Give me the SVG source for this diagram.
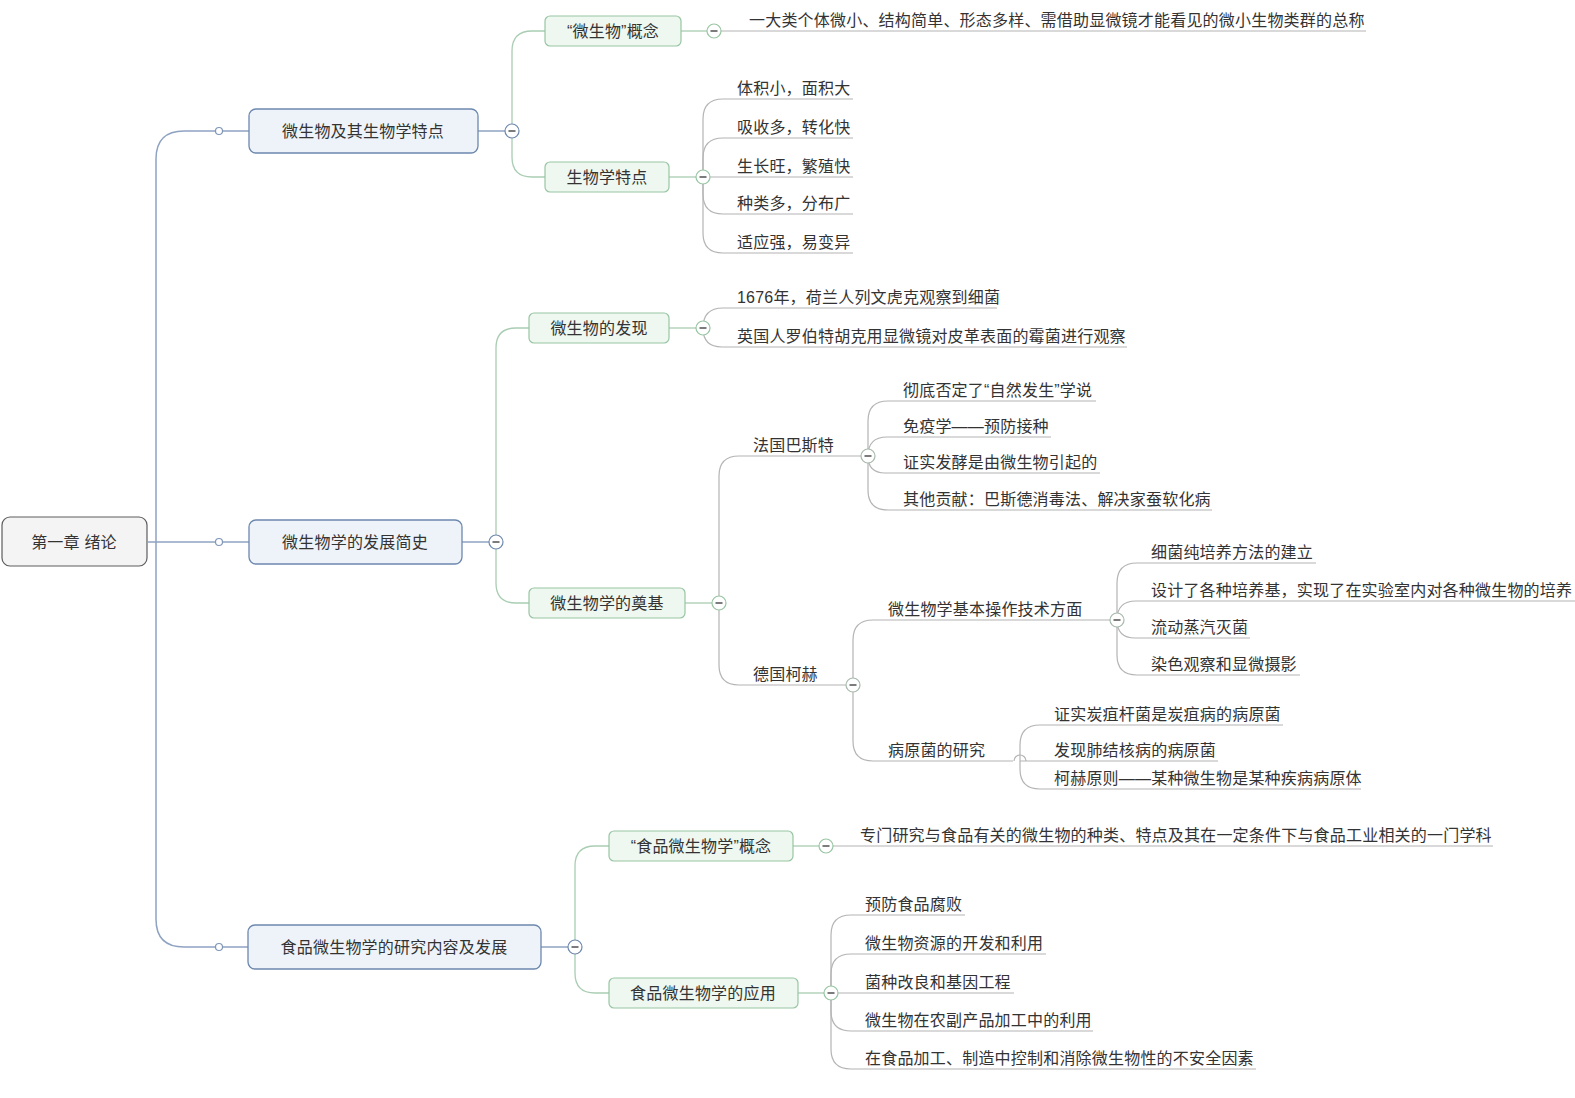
<svg xmlns="http://www.w3.org/2000/svg" xmlns:xlink="http://www.w3.org/1999/xlink" width="1575" height="1098" viewBox="0 0 1575 1098">
<style>
text{font-family:"Liberation Sans","Noto Sans CJK SC",sans-serif;font-size:16px;fill:#333;letter-spacing:0.2px}
.c{text-anchor:middle;dominant-baseline:central}
.root{fill:#f4f4f4;stroke:#5c5c5c;stroke-width:1.2}
.l1{fill:#eef3fa;stroke:#6d88ae;stroke-width:1.3}
.l2{fill:#eef7f0;stroke:#98c5a2;stroke-width:1.2}
.e1{fill:none;stroke:#8ea3c2;stroke-width:1.5}
.e2{fill:none;stroke:#a9cdb2;stroke-width:1.3}
.e3{fill:none;stroke:#b4b4b4;stroke-width:1.2}
.dot{fill:#fff;stroke:#7f96b8;stroke-width:1.2}
.tb{fill:#fff;stroke:#6d88ae;stroke-width:1.2}
.tg{fill:#fff;stroke:#98c5a2;stroke-width:1.2}
.tx{fill:#fff;stroke:#a9b9ad;stroke-width:1.2}
.m{stroke:#444;stroke-width:1.4}
</style>
<defs>
<g id="minus"><line class="m" x1="-3.5" y1="0" x2="3.5" y2="0"/></g>
</defs>
<g id="connectors">
<path class="e1" d="M148 542 H249"/>
<path class="e1" d="M156 542 V159 Q156 131 184 131 H249"/>
<path class="e1" d="M156 542 V919 Q156 947 184 947 H248"/>
<path class="e1" d="M478 131 H505"/>
<path class="e1" d="M462 542 H489"/>
<path class="e1" d="M541 947 H568"/>
<path class="e2" d="M512 131 V51 Q512 31 532 31 H545"/>
<path class="e2" d="M512 131 V157 Q512 177 532 177 H545"/>
<path class="e2" d="M496 542 V348 Q496 328 516 328 H529"/>
<path class="e2" d="M496 542 V583 Q496 603 516 603 H529"/>
<path class="e2" d="M575 947 V866 Q575 846 595 846 H609"/>
<path class="e2" d="M575 947 V973 Q575 993 595 993 H609"/>
<path class="e2" d="M681 31 H707"/>
<path class="e2" d="M669 177 H696"/>
<path class="e2" d="M669 328 H696"/>
<path class="e2" d="M685 603 H712"/>
<path class="e2" d="M793 846 H819"/>
<path class="e2" d="M798 993 H824"/>
<path class="e3" d="M721 31 H1366"/>
<path class="e3" d="M703 177 V119 Q703 99 723 99 H853"/>
<path class="e3" d="M703 177 V158 Q703 138 723 138 H853"/>
<path class="e3" d="M703 177 H853"/>
<path class="e3" d="M703 177 V194 Q703 214 723 214 H853"/>
<path class="e3" d="M703 177 V233 Q703 253 723 253 H853"/>
<path class="e3" d="M703 328 Q703 308 723 308 H997"/>
<path class="e3" d="M703 328 Q703 347 722 347 H1127"/>
<path class="e3" d="M719 603 V476 Q719 456 739 456 H861"/>
<path class="e3" d="M719 603 V665 Q719 685 739 685 H846"/>
<path class="e3" d="M868 456 V421 Q868 401 888 401 H1096"/>
<path class="e3" d="M868 456 Q868 437 887 437 H1051"/>
<path class="e3" d="M868 456 Q868 473 885 473 H1100"/>
<path class="e3" d="M868 456 V490 Q868 510 888 510 H1212"/>
<path class="e3" d="M853 685 V640 Q853 620 873 620 H1110"/>
<path class="e3" d="M853 685 V741 Q853 761 873 761 H1013"/>
<path class="e3" d="M1117 620 V583 Q1117 563 1137 563 H1316"/>
<path class="e3" d="M1117 620 Q1117 601 1136 601 H1575"/>
<path class="e3" d="M1117 620 Q1117 638 1135 638 H1250"/>
<path class="e3" d="M1117 620 V655 Q1117 675 1137 675 H1300"/>
<path class="e3" d="M1020 761 V745 Q1020 725 1040 725 H1283"/>
<path class="e3" d="M1020 761 H1218"/>
<path class="e3" d="M1020 761 V769 Q1020 789 1040 789 H1361"/>
<path class="e3" d="M1014 761 A6 6 0 0 1 1026 761"/>
<path class="e3" d="M833 846 H1493"/>
<path class="e3" d="M831 993 V935 Q831 915 851 915 H965"/>
<path class="e3" d="M831 993 V974 Q831 954 851 954 H1046"/>
<path class="e3" d="M831 993 H1014"/>
<path class="e3" d="M831 993 V1011 Q831 1031 851 1031 H1093"/>
<path class="e3" d="M831 993 V1049 Q831 1069 851 1069 H1256"/>
<circle class="dot" cx="219" cy="131" r="3.5"/>
<circle class="dot" cx="219" cy="542" r="3.5"/>
<circle class="dot" cx="219" cy="947" r="3.5"/>
<circle class="tb" cx="512" cy="131" r="7"/><use xlink:href="#minus" x="512" y="131"/>
<circle class="tb" cx="496" cy="542" r="7"/><use xlink:href="#minus" x="496" y="542"/>
<circle class="tb" cx="575" cy="947" r="7"/><use xlink:href="#minus" x="575" y="947"/>
<circle class="tg" cx="714" cy="31" r="7"/><use xlink:href="#minus" x="714" y="31"/>
<circle class="tg" cx="703" cy="177" r="7"/><use xlink:href="#minus" x="703" y="177"/>
<circle class="tg" cx="703" cy="328" r="7"/><use xlink:href="#minus" x="703" y="328"/>
<circle class="tg" cx="719" cy="603" r="7"/><use xlink:href="#minus" x="719" y="603"/>
<circle class="tg" cx="826" cy="846" r="7"/><use xlink:href="#minus" x="826" y="846"/>
<circle class="tg" cx="831" cy="993" r="7"/><use xlink:href="#minus" x="831" y="993"/>
<circle class="tx" cx="868" cy="456" r="7"/><use xlink:href="#minus" x="868" y="456"/>
<circle class="tx" cx="853" cy="685" r="7"/><use xlink:href="#minus" x="853" y="685"/>
<circle class="tx" cx="1117" cy="620" r="7"/><use xlink:href="#minus" x="1117" y="620"/>
</g>
<g id="root"><rect class="root" x="2" y="517" width="145" height="49" rx="8"/><text class="c" x="74" y="542">第一章 绪论</text></g>
<g id="n1"><rect class="l1" x="249" y="109" width="229" height="44" rx="7"/><text class="c" x="363" y="131">微生物及其生物学特点</text></g>
<g id="n2"><rect class="l1" x="249" y="520" width="213" height="44" rx="7"/><text class="c" x="355" y="542">微生物学的发展简史</text></g>
<g id="n3"><rect class="l1" x="248" y="925" width="293" height="44" rx="7"/><text class="c" x="394" y="947">食品微生物学的研究内容及发展</text></g>
<g id="n1a"><rect class="l2" x="545" y="16" width="136" height="30" rx="5"/><text class="c" x="613" y="31">“微生物”概念</text></g>
<g id="n1b"><rect class="l2" x="545" y="162" width="124" height="30" rx="5"/><text class="c" x="607" y="177">生物学特点</text></g>
<g id="n2a"><rect class="l2" x="529" y="313" width="140" height="30" rx="5"/><text class="c" x="599" y="328">微生物的发现</text></g>
<g id="n2b"><rect class="l2" x="529" y="588" width="156" height="30" rx="5"/><text class="c" x="607" y="603">微生物学的奠基</text></g>
<g id="n3a"><rect class="l2" x="609" y="831" width="184" height="30" rx="5"/><text class="c" x="701" y="846">“食品微生物学”概念</text></g>
<g id="n3b"><rect class="l2" x="609" y="978" width="189" height="30" rx="5"/><text class="c" x="703" y="993">食品微生物学的应用</text></g>
<g id="leaf-concept"><text x="749" y="26">一大类个体微小、结构简单、形态多样、需借助显微镜才能看见的微小生物类群的总称</text></g>
<g id="leaf-traits">
<text x="737" y="94">体积小，面积大</text>
<text x="737" y="133">吸收多，转化快</text>
<text x="737" y="172">生长旺，繁殖快</text>
<text x="737" y="209">种类多，分布广</text>
<text x="737" y="248">适应强，易变异</text>
</g>
<g id="leaf-discovery">
<text x="737" y="303">1676年，荷兰人列文虎克观察到细菌</text>
<text x="737" y="342">英国人罗伯特胡克用显微镜对皮革表面的霉菌进行观察</text>
</g>
<g id="pasteur"><text x="753" y="451">法国巴斯特</text></g>
<g id="leaf-pasteur">
<text x="903" y="396">彻底否定了“自然发生”学说</text>
<text x="903" y="432">免疫学——预防接种</text>
<text x="903" y="468">证实发酵是由微生物引起的</text>
<text x="903" y="505">其他贡献：巴斯德消毒法、解决家蚕软化病</text>
</g>
<g id="koch"><text x="753" y="680">德国柯赫</text></g>
<g id="koch-tech"><text x="888" y="615">微生物学基本操作技术方面</text></g>
<g id="leaf-tech">
<text x="1151" y="558">细菌纯培养方法的建立</text>
<text x="1151" y="596">设计了各种培养基，实现了在实验室内对各种微生物的培养</text>
<text x="1151" y="633">流动蒸汽灭菌</text>
<text x="1151" y="670">染色观察和显微摄影</text>
</g>
<g id="koch-path"><text x="888" y="756">病原菌的研究</text></g>
<g id="leaf-path">
<text x="1054" y="720">证实炭疽杆菌是炭疽病的病原菌</text>
<text x="1054" y="756">发现肺结核病的病原菌</text>
<text x="1054" y="784">柯赫原则——某种微生物是某种疾病病原体</text>
</g>
<g id="leaf-food-concept"><text x="860" y="841">专门研究与食品有关的微生物的种类、特点及其在一定条件下与食品工业相关的一门学科</text></g>
<g id="leaf-food-app">
<text x="865" y="910">预防食品腐败</text>
<text x="865" y="949">微生物资源的开发和利用</text>
<text x="865" y="988">菌种改良和基因工程</text>
<text x="865" y="1026">微生物在农副产品加工中的利用</text>
<text x="865" y="1064">在食品加工、制造中控制和消除微生物性的不安全因素</text>
</g>
</svg>
